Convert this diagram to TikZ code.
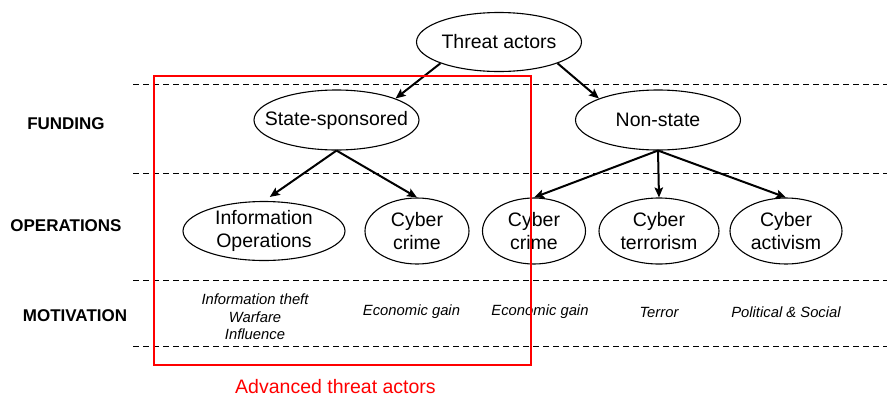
\documentclass[tikz,border=0pt]{standalone}
\usepackage{fontspec}
\setmainfont{Liberation Sans}
\usetikzlibrary{shapes.geometric,arrows.meta}

\tikzset{
  actor/.style={draw, ellipse, line width=1.1pt, inner xsep=-30pt, inner ysep=-6pt,
    align=center, font=\fontsize{19.5}{23}\selectfont},
  link/.style={line width=2pt, -{Stealth[length=10pt,width=8.5pt,inset=2pt]}},
  band/.style={dashed, dash pattern=on 6pt off 4pt, line width=1.2pt},
  tier/.style={font=\fontsize{17}{20}\selectfont\bfseries},
  motive/.style={align=center, font=\fontsize{14.8}{17.5}\selectfont\itshape},
}

\begin{document}
\begin{tikzpicture}[x=1pt, y=-1pt]
  \useasboundingbox (0,0) rectangle (889,397);

  % tier separators
  \coordinate (l1) at (133,84.5);  \coordinate (r1) at (887,84.5);
  \coordinate (l2) at (133,173.5); \coordinate (r2) at (887,173.5);
  \coordinate (l3) at (133,280.5); \coordinate (r3) at (887,280.5);
  \coordinate (l4) at (133,346.5); \coordinate (r4) at (887,346.5);
  \draw[band] (l1) -- (r1);
  \draw[band] (l2) -- (r2);
  \draw[band] (l3) -- (r3);
  \draw[band] (l4) -- (r4);

  % tier labels
  \node[tier] (funding) at (66,124) {FUNDING};
  \node[tier] (operations) at (66,226) {OPERATIONS};
  \node[tier] (motivation) at (75,316) {MOTIVATION};

  % actors
  \node[actor, minimum width=165pt, minimum height=59pt] (ta) at (499,42) {Threat actors};
  \node[actor, minimum width=165pt, minimum height=60pt] (ss) at (336.5,120) {State-sponsored};
  \node[actor, minimum width=165pt, minimum height=60pt] (ns) at (658,120) {Non-state};
  \node[actor, minimum width=162pt, minimum height=59pt] (io) at (264,231) {Information\\Operations};
  \node[actor, minimum width=104pt, minimum height=66pt] (cc1) at (417,231) {Cyber\\crime};
  \node[actor, minimum width=103pt, minimum height=66pt] (cc2) at (534,231) {Cyber\\crime};
  \node[actor, minimum width=120pt, minimum height=66pt] (ct) at (659,231) {Cyber\\terrorism};
  \node[actor, minimum width=112pt, minimum height=66pt] (ca) at (786,231) {Cyber\\activism};

  % hierarchy
  \draw[link] (ta.200) -- (ss.20);
  \draw[link] (ta.-20) -- (ns.160);
  \draw[link, shorten >=7pt] (ss.south) -- (io.north);
  \draw[link] (ss.south) -- (cc1.north);
  \draw[link] (ns.south) -- (cc2.north);
  \draw[link] (ns.south) -- (ct.north);
  \draw[link] (ns.south) -- (ca.north);

  % motivations
  \node[motive] (m1) at (255,317) {Information theft\\Warfare\\Influence};
  \node[motive] (m2) at (411.5,312) {Economic gain};
  \node[motive] (m3) at (540,312) {Economic gain};
  \node[motive] (m4) at (659,312.5) {Terror};
  \node[motive] (m5) at (786,312) {Political \& Social};

  % advanced threat actors
  \node[draw=red, line width=2pt, minimum width=377pt, minimum height=288.5pt, inner sep=0pt]
    (adv) at (342,220.3) {};
  \node[text=red, inner sep=1pt, font=\fontsize{19.5}{23}\selectfont] (advlabel) at (335.5,386.5) {Advanced threat actors};
\end{tikzpicture}
\end{document}
